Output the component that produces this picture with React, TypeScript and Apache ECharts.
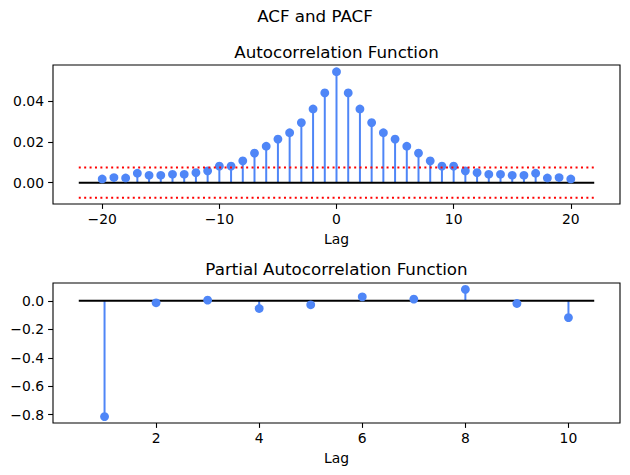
import React, { useEffect, useRef } from "react";
import * as echarts from "echarts";

const acfLags = [-20, -19, -18, -17, -16, -15, -14, -13, -12, -11, -10, -9, -8, -7, -6, -5, -4, -3, -2, -1, 0, 1, 2, 3, 4, 5, 6, 7, 8, 9, 10, 11, 12, 13, 14, 15, 16, 17, 18, 19, 20];
const acfValues = [0.0018, 0.0025, 0.0023, 0.0046, 0.0036, 0.0036, 0.0041, 0.0041, 0.0049, 0.0058, 0.0081, 0.0081, 0.0107, 0.0145, 0.0179, 0.0214, 0.0245, 0.0295, 0.0362, 0.0441, 0.0545, 0.0441, 0.0362, 0.0295, 0.0245, 0.0214, 0.0179, 0.0145, 0.0107, 0.0081, 0.0081, 0.0058, 0.0049, 0.0041, 0.0041, 0.0036, 0.0036, 0.0046, 0.0023, 0.0025, 0.0018];
const acfConfidence = 0.0074;
const acfLineRange = [-22, 22];
const acfXTicks = [-20, -10, 0, 10, 20];
const acfYTicks = [0, 0.02, 0.04];

const pacfLags = [1, 2, 3, 4, 5, 6, 7, 8, 9, 10];
const pacfValues = [-0.813, -0.014, 0.005, -0.054, -0.028, 0.028, 0.012, 0.08, -0.019, -0.118];
const pacfLineRange = [0.5, 10.5];
const pacfXTicks = [2, 4, 6, 8, 10];
const pacfYTicks = [-0.8, -0.6, -0.4, -0.2, 0];

const FONT = "DejaVu Sans";
const BLUE = "#4f86f7";
const fmt = (d: number) => (v: number) => v.toFixed(d).replace("-", "\u2212");

export default function App() {
  const ref = useRef<HTMLDivElement>(null);
  useEffect(() => {
    if (!ref.current) return;
    const chart = echarts.init(ref.current, null, { renderer: "svg" });

    const stemSeries = (data: number[][], idx: number) => ({
      type: "custom",
      xAxisIndex: idx,
      yAxisIndex: idx,
      z: 2,
      data,
      renderItem: (params: any, api: any) => {
        const x = api.value(0);
        const y = api.value(1);
        const p0 = api.coord([x, 0]);
        const p1 = api.coord([x, y]);
        return {
          type: "line",
          shape: { x1: p0[0], y1: p0[1], x2: p1[0], y2: p1[1] },
          style: { stroke: BLUE, lineWidth: 2 },
        };
      },
    });
    const markerSeries = (data: number[][], idx: number) => ({
      type: "scatter",
      xAxisIndex: idx,
      yAxisIndex: idx,
      z: 4,
      symbol: "circle",
      symbolSize: 8.8,
      itemStyle: { color: BLUE, opacity: 1 },
      data,
    });
    const hline = (range: number[], y: number, idx: number, color: string, dotted: boolean, width: number, z: number) => ({
      type: "line",
      xAxisIndex: idx,
      yAxisIndex: idx,
      z,
      showSymbol: false,
      symbol: "none",
      lineStyle: { color, width, type: dotted ? [2, 3.4] : "solid", cap: "butt" },
      data: [[range[0], y], [range[1], y]],
    });

    const xAxisBase = (idx: number, min: number, max: number, ticks: number[]) => ({
      type: "value",
      gridIndex: idx,
      position: "bottom",
      min,
      max,
      splitLine: { show: false },
      axisLine: { show: false, onZero: false },
      axisTick: { show: true, length: 4.9, inside: false, lineStyle: { color: "#000", width: 1.1 }, customValues: ticks },
      axisLabel: { color: "#000", fontFamily: FONT, fontSize: 13.9, margin: 8, customValues: ticks, formatter: fmt(0) },
      name: "Lag",
      nameLocation: "middle",
      nameGap: 28,
      nameTextStyle: { color: "#000", fontFamily: FONT, fontSize: 13.9 },
    });
    const yAxisBase = (idx: number, min: number, max: number, ticks: number[], digits: number) => ({
      type: "value",
      gridIndex: idx,
      position: "left",
      min,
      max,
      splitLine: { show: false },
      axisLine: { show: false, onZero: false },
      axisTick: { show: true, length: 4.9, inside: false, lineStyle: { color: "#000", width: 1.1 }, customValues: ticks },
      axisLabel: { color: "#000", fontFamily: FONT, fontSize: 13.9, margin: 9, customValues: ticks, formatter: fmt(digits) },
    });

    const acfData = acfLags.map((l, i) => [l, acfValues[i]]);
    const pacfData = pacfLags.map((l, i) => [l, pacfValues[i]]);

    chart.setOption({
      animation: false,
      backgroundColor: "#fff",
      textStyle: { fontFamily: FONT },
      grid: [
        { left: 53, top: 65, width: 567, height: 139, show: true, borderColor: "#000", borderWidth: 1.1, backgroundColor: "transparent" },
        { left: 53, top: 283, width: 567, height: 140, show: true, borderColor: "#000", borderWidth: 1.1, backgroundColor: "transparent" },
      ],
      xAxis: [xAxisBase(0, -24.2, 24.2, acfXTicks), xAxisBase(1, 0, 11, pacfXTicks)],
      yAxis: [yAxisBase(0, -0.0105, 0.0578, acfYTicks, 2), yAxisBase(1, -0.858, 0.125, pacfYTicks, 1)],
      graphic: [
        { type: "text", x: 315, y: 16, style: { text: "ACF and PACF", fontFamily: FONT, fontSize: 16.7, fill: "#000", align: "center", verticalAlign: "middle" } },
        { type: "text", x: 336.5, y: 51.5, style: { text: "Autocorrelation Function", fontFamily: FONT, fontSize: 16.7, fill: "#000", align: "center", verticalAlign: "middle" } },
        { type: "text", x: 336.5, y: 269, style: { text: "Partial Autocorrelation Function", fontFamily: FONT, fontSize: 16.7, fill: "#000", align: "center", verticalAlign: "middle" } },
      ],
      series: [
        stemSeries(acfData, 0),
        hline(acfLineRange, 0, 0, "#000", false, 2, 3),
        markerSeries(acfData, 0),
        hline(acfLineRange, acfConfidence, 0, "#ff0000", true, 2, 5),
        hline(acfLineRange, -acfConfidence, 0, "#ff0000", true, 2, 5),
        stemSeries(pacfData, 1),
        hline(pacfLineRange, 0, 1, "#000", false, 2, 3),
        markerSeries(pacfData, 1),
      ],
    });
    return () => chart.dispose();
  }, []);
  return <div ref={ref} style={{ position: "fixed", left: 0, top: 0, width: 630, height: 475 }} />;
}
